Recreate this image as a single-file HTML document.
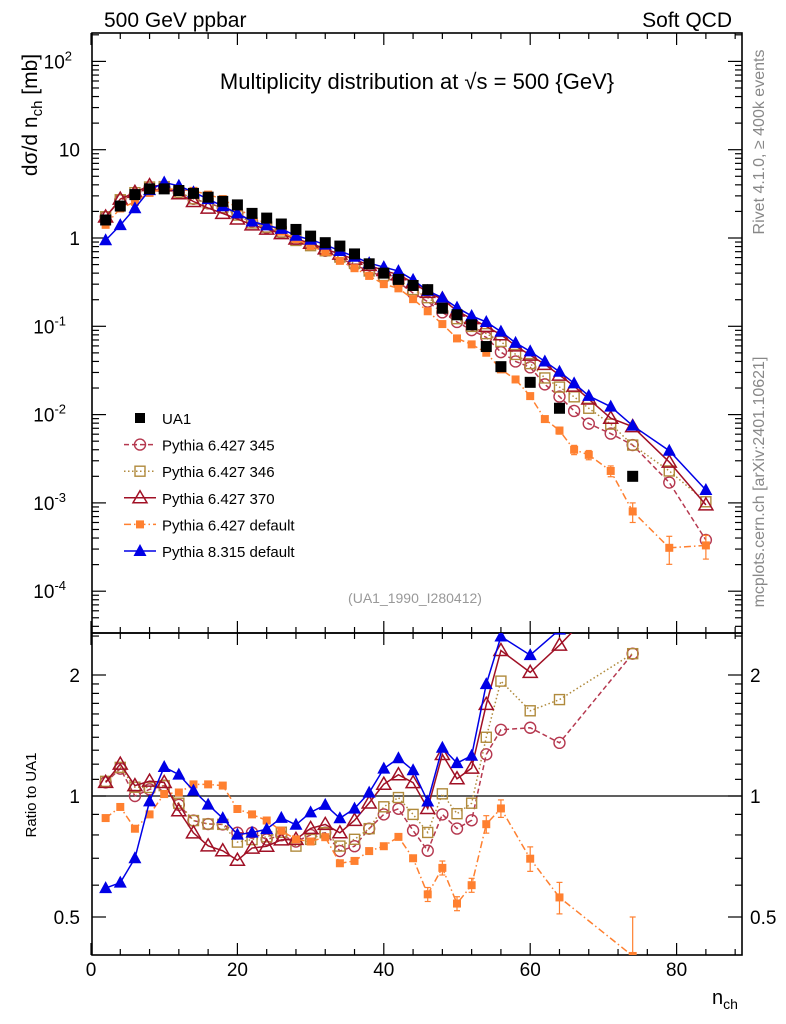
<!DOCTYPE html>
<html><head><meta charset="utf-8">
<style>
html,body{margin:0;padding:0;background:#fff;}
svg{display:block;font-family:"Liberation Sans",sans-serif;}
</style></head>
<body>
<svg id="chart" width="786" height="1024" viewBox="0 0 786 1024" xmlns="http://www.w3.org/2000/svg">
<defs>
<clipPath id="clipMain"><rect x="92" y="33" width="650" height="600"/></clipPath>
<clipPath id="clipRatio"><rect x="92" y="633" width="650" height="322"/></clipPath>
</defs>
<text x="104" y="27" font-size="21">500 GeV ppbar</text>
<text x="732" y="27" font-size="21" text-anchor="end">Soft QCD</text>
<text x="417" y="89" font-size="22" text-anchor="middle">Multiplicity distribution at √s = 500 {GeV}</text>
<text transform="translate(37,115) rotate(-90)" font-size="21" text-anchor="middle">dσ/d n<tspan font-size="15" dy="5">ch</tspan><tspan dy="-5"> [mb]</tspan></text>
<text transform="translate(764,142) rotate(-90)" font-size="16" fill="#888" text-anchor="middle">Rivet 4.1.0, ≥ 400k events</text>
<text transform="translate(764,482) rotate(-90)" font-size="16" fill="#888" text-anchor="middle">mcplots.cern.ch [arXiv:2401.10621]</text>
<text x="415" y="603" font-size="14" fill="#999" text-anchor="middle">(UA1_1990_I280412)</text>
<text transform="translate(36,795) rotate(-90)" font-size="15" text-anchor="middle">Ratio to UA1</text>
<text x="712" y="1004" font-size="20">n<tspan font-size="14" dy="5">ch</tspan></text>
<g id="axes"></g>
<g id="mainMarks" clip-path="url(#clipMain)"></g>
<g id="ratioMarks" clip-path="url(#clipRatio)"></g>
<g id="legend"></g>
</svg>
<script>
// ---- data ----
const nData = [2,4,6,8,10,12,14,16,18,20,22,24,26,28,30,32,34,36,38,40,42,44,46,48,50,52,54,56,60,64,74];
const ua1 = [1.6,2.3,3.1,3.6,3.6,3.45,3.2,2.9,2.6,2.37,1.9,1.68,1.44,1.25,1.05,0.885,0.81,0.66,0.51,0.40,0.34,0.29,0.26,0.16,0.135,0.104,0.059,0.0349,0.0232,0.0118,0.0020];
const nMC = [2,4,6,8,10,12,14,16,18,20,22,24,26,28,30,32,34,36,38,40,42,44,46,48,50,52,54,56,58,60,62,64,66,68,71,74,79,84];
const py345 = [1.73,2.69,3.10,3.74,3.82,3.28,2.78,2.47,2.21,1.92,1.54,1.31,1.15,0.963,0.84,0.717,0.591,0.495,0.423,0.36,0.316,0.238,0.190,0.144,0.112,0.0905,0.0749,0.051,0.04,0.0343,0.022,0.016,0.011,0.0079,0.0061,0.00452,0.0017,0.00038];
const py346 = [1.74,2.71,3.26,3.78,3.82,3.31,2.78,2.47,2.21,1.82,1.48,1.33,1.17,0.938,0.819,0.717,0.608,0.515,0.423,0.376,0.337,0.261,0.211,0.162,0.122,0.0998,0.0826,0.0674,0.048,0.0378,0.026,0.0205,0.0159,0.0118,0.0078,0.00452,0.0023,0.00103];
const py370 = [1.73,2.76,3.29,3.92,3.89,3.17,2.59,2.18,1.90,1.64,1.41,1.26,1.12,0.975,0.872,0.752,0.656,0.574,0.490,0.428,0.384,0.313,0.242,0.203,0.149,0.122,0.0997,0.0803,0.060,0.0471,0.037,0.0280,0.021,0.015,0.0091,0.0073,0.0029,0.00095];
const py6def = [1.41,2.16,2.57,3.24,3.64,3.52,3.42,3.10,2.76,2.20,1.71,1.46,1.18,0.975,0.809,0.699,0.551,0.455,0.372,0.30,0.269,0.203,0.148,0.106,0.0729,0.0624,0.0502,0.0325,0.025,0.0162,0.0089,0.0066,0.0040,0.0035,0.0023,0.0008,0.00031,0.00033];
const py8def = [0.944,1.40,2.17,3.49,4.25,3.90,3.30,2.76,2.29,1.90,1.54,1.39,1.27,1.06,0.956,0.841,0.713,0.614,0.520,0.468,0.422,0.336,0.252,0.211,0.163,0.131,0.112,0.087,0.065,0.052,0.040,0.0306,0.0226,0.0163,0.0123,0.0075,0.0039,0.0014];
const py6defErr = [0,0,0,0,0,0,0,0,0,0,0,0,0,0,0,0,0,0,0,0,0,0,0.04,0.04,0.04,0.04,0.05,0.05,0.06,0.07,0.08,0.09,0.12,0.12,0.14,0.25,0.35,0.3];
const xTicks = [0,20,40,60,80];
const yMainTicks = [2,1,0,-1,-2,-3,-4];
const yRatioTicks = [0.5,1,2];

// ---- scales ----
const X = n => 91 + 7.32*n;
const YM = v => 238 - 88.3*Math.log10(v);
const YR = r => 796 - 121*Math.log2(r);
const NS = "http://www.w3.org/2000/svg";
function mk(tag, attrs, parent){ const e=document.createElementNS(NS,tag); for(const k in attrs) e.setAttribute(k,attrs[k]); parent.appendChild(e); return e; }
const axes = document.getElementById('axes');
const gm = document.getElementById('mainMarks');
const gr = document.getElementById('ratioMarks');
const gl = document.getElementById('legend');

const f1 = mk('rect',{x:92,y:33,width:650,height:600,fill:'none',stroke:'#000','stroke-width':1.6},axes);


const f2 = mk('rect',{x:92,y:633,width:650,height:322,fill:'none',stroke:'#000','stroke-width':1.6},axes);


const one = mk('line',{x1:92,x2:742,y1:YR(1),y2:YR(1),stroke:'#000','stroke-width':1.2},axes);



for(let n=0;n<=88;n+=4){
  const major = n%20===0, L = major?12:6, x=X(n);
  [[33,1],[633,-1],[633,1],[955,-1]].forEach(([y,d])=>{
    mk('line',{x1:x,x2:x,y1:y,y2:y+d*L,stroke:'#000','stroke-width':1.2},axes);
  });
}
xTicks.forEach(t=>{
  const e = mk('text',{x:X(t),y:976,'font-size':19,'text-anchor':'middle'},axes);
  e.textContent = t;
  
  
});
for(let d=-5; d<=2; d++){
  for(let m=1;m<10;m++){
    const v = m*Math.pow(10,d), y = YM(v);
    if(y<33||y>633) continue;
    const L = m===1?14:7;
    mk('line',{x1:92,x2:92+L,y1:y,y2:y,stroke:'#000','stroke-width':1.2},axes);
    mk('line',{x1:742,x2:742-L,y1:y,y2:y,stroke:'#000','stroke-width':1.2},axes);
  }
}
yMainTicks.forEach(p=>{
  const y = YM(Math.pow(10,p));
  const e = mk('text',{x:80,y:y+7,'font-size':19,'text-anchor':'end'},axes);
  
  
  if(p===0) e.textContent='1';
  else if(p===1) e.textContent='10';
  else { e.textContent='10'; const s=document.createElementNS(NS,'tspan'); s.setAttribute('font-size','13'); s.setAttribute('dy','-8'); s.textContent = p; e.appendChild(s); e.setAttribute('x', 80 - (p<0?14:8)); }
});
[0.4,0.5,0.6,0.7,0.8,0.9,1,2,1.1,1.2,1.3,1.4,1.5,1.6,1.7,1.8,1.9,2.5].forEach(r=>{
  const y=YR(r); if(y<633||y>955) return;
  const L = (r===0.5||r===1||r===2)?14:7;
  mk('line',{x1:92,x2:92+L,y1:y,y2:y,stroke:'#000','stroke-width':1.2},axes);
  mk('line',{x1:742,x2:742-L,y1:y,y2:y,stroke:'#000','stroke-width':1.2},axes);
});
yRatioTicks.forEach(r=>{
  const a = mk('text',{x:80,y:YR(r)+7,'font-size':19,'text-anchor':'end'},axes);
  a.textContent = r;
  
  
  const b = mk('text',{x:750,y:YR(r)+7,'font-size':19},axes);
  b.textContent = r;
  
  
});

function marker(g, kind, x, y, col){
  if(kind==='sqf') return mk('rect',{x:x-5,y:y-5,width:10,height:10,fill:col},g);
  if(kind==='sqs') return mk('rect',{x:x-4,y:y-4,width:8,height:8,fill:col},g);
  if(kind==='sqo') return mk('rect',{x:x-5,y:y-5,width:10,height:10,fill:'none',stroke:col,'stroke-width':1.4},g);
  if(kind==='cir') return mk('circle',{cx:x,cy:y,r:5.5,fill:'none',stroke:col,'stroke-width':1.4},g);
  if(kind==='tro') return mk('path',{d:`M${x} ${y-7}L${x+7} ${y+5}L${x-7} ${y+5}Z`,fill:'none',stroke:col,'stroke-width':1.5},g);
  if(kind==='trf') return mk('path',{d:`M${x} ${y-7}L${x+6.5} ${y+5}L${x-6.5} ${y+5}Z`,fill:col},g);
}
function errbar(g, x, y1, y2, col){
  mk('line',{x1:x,x2:x,y1:y1,y2:y2,stroke:col,'stroke-width':1.2},g);
  mk('line',{x1:x-3,x2:x+3,y1:y1,y2:y1,stroke:col,'stroke-width':1.2},g);
  mk('line',{x1:x-3,x2:x+3,y1:y2,y2:y2,stroke:col,'stroke-width':1.2},g);
}
const series = [
  {name:'pythia-6-427-345', label:'Pythia 6.427 345', vals:py345, col:'#b5384f', dash:'5,3', kind:'cir'},
  {name:'pythia-6-427-346', label:'Pythia 6.427 346', vals:py346, col:'#b08a3c', dash:'1.5,2.5', kind:'sqo'},
  {name:'pythia-6-427-370', label:'Pythia 6.427 370', vals:py370, col:'#a01025', dash:'', kind:'tro'},
  {name:'pythia-6-427-default', label:'Pythia 6.427 default', vals:py6def, col:'#ff8030', dash:'7,3,1.5,3', kind:'sqs', err:py6defErr},
  {name:'pythia-8-315-default', label:'Pythia 8.315 default', vals:py8def, col:'#0000e6', dash:'', kind:'trf'}
];
series.forEach(s=>{
  const pts = nMC.map((n,i)=>X(n)+','+YM(s.vals[i])).join(' ');
  const l = mk('polyline',{points:pts,fill:'none',stroke:s.col,'stroke-width':1.5,'stroke-dasharray':s.dash},gm);
  
  
  nMC.forEach((n,i)=>{
    if(s.err && s.err[i]>0){
      const v=s.vals[i], e=s.err[i];
      errbar(gm, X(n), YM(v*(1+e)), YM(v*Math.max(0.05,1-e)), s.col);
    }
    const m = marker(gm, s.kind, X(n), YM(s.vals[i]), s.col);
    
    
  });
  const rp = [];
  nData.forEach((n,j)=>{
    const i = nMC.indexOf(n); if(i<0) return;
    const r = s.vals[i]/ua1[j];
    rp.push([X(n), YR(r), r, s.err?s.err[i]:0]);
  });
  const rl = mk('polyline',{points:rp.map(p=>p[0]+','+p[1]).join(' '),fill:'none',stroke:s.col,'stroke-width':1.5,'stroke-dasharray':s.dash},gr);
  
  
  rp.forEach(p=>{
    if(p[3]>0) errbar(gr, p[0], YR(p[2]*(1+p[3])), YR(p[2]*Math.max(0.05,1-p[3])), s.col);
    const m = marker(gr, s.kind, p[0], p[1], s.col);
    
    
  });
});
nData.forEach((n,j)=>{
  const m = mk('rect',{x:X(n)-5.5,y:YM(ua1[j])-5.5,width:11,height:11,fill:'#000'},gm);
  
  
});
const legItems = [{name:'ua1', label:'UA1', kind:'sqf', col:'#000', dash:null}].concat(series);
legItems.forEach((s,k)=>{
  const y = 418 + k*26.6;
  const g = mk('g',{},gl);
  
  
  if(s.dash!==null) mk('line',{x1:124,x2:156,y1:y,y2:y,stroke:s.col,'stroke-width':1.5,'stroke-dasharray':s.dash},g);
  marker(g, s.kind, 140, y, s.col);
  const t = mk('text',{x:162,y:y+6,'font-size':15},g);
  t.textContent = s.label;
});
</script>
</body></html>
